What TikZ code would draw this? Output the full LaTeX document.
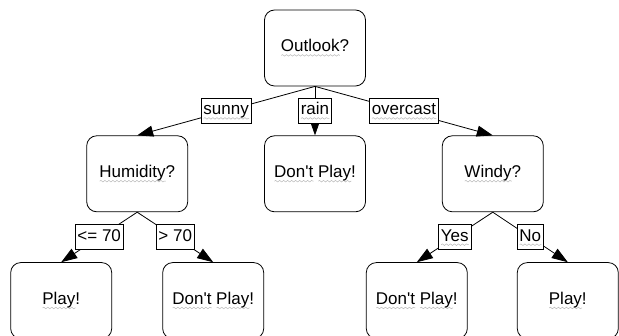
\documentclass[tikz,border=0pt]{standalone}
\usepackage{fontspec}
\setmainfont{Liberation Sans}
\usetikzlibrary{arrows.meta, positioning, decorations.pathmorphing}

% wavy grey underline, one word at a time
\newsavebox{\wordbox}
\newlength{\wordwd}
\newcommand{\squig}[1]{\sbox{\wordbox}{#1}\setlength{\wordwd}{\wd\wordbox}%
  \rlap{\tikz[baseline=0pt, x=1pt, y=1pt]\draw[-, sharp corners, fill=none, line width=0.5pt, gray!55, decorate, decoration={snake, amplitude=0.8pt, segment length=4pt}] (0,-3.5) -- (\wordwd,-3.5);}%
  \usebox{\wordbox}}

\begin{document}
\begin{tikzpicture}[
    x=1pt, y=-1pt,
    node distance=49pt,
    test/.style={rectangle, draw, rounded corners=10pt, minimum width=101pt, minimum height=76pt, align=center, font=\fontsize{17}{20}\selectfont, line width=0.8pt},
    leaf/.style={test},
    cond/.style={rectangle, draw, fill=white, inner xsep=2.5pt, inner ysep=3.5pt, text height=13pt, text depth=5pt, font=\fontsize{17}{20}\selectfont, line width=0.8pt},
    -{Triangle[length=16pt,width=11pt]}, line width=0.8pt
]
    \useasboundingbox (0,0) rectangle (619,336);

    % Root and first level
    \node[test] (outlook) at (315,48) {\squig{Outlook}?};
    \node[leaf, below=of outlook] (nogo1) {\squig{Don\textquotesingle t} \squig{Play}!};
    \node[test, left=76pt of nogo1] (humidity) {\squig{Humidity}?};
    \node[test, right=76pt of nogo1] (windy) {\squig{Windy}?};

    % Leaves
    \node[leaf, below=50pt of humidity, xshift=-76pt] (play1) {\squig{Play}!};
    \node[leaf, below=50pt of humidity, xshift=76pt] (nogo2) {\squig{Don\textquotesingle t} \squig{Play}!};
    \node[leaf, below=50pt of windy, xshift=-76pt] (nogo3) {\squig{Don\textquotesingle t} \squig{Play}!};
    \node[leaf, below=50pt of windy, xshift=75pt] (play2) {\squig{Play}!};

    % Edges
    \draw (outlook.south) -- node[cond] {\squig{sunny}} (humidity.north);
    \draw (outlook.south) -- node[cond] {\squig{rain}} (nogo1.north);
    \draw (outlook.south) -- node[cond] {\squig{overcast}} (windy.north);
    \draw (humidity.south) -- node[cond] {<= 70} (play1.north);
    \draw (humidity.south) -- node[cond] {> 70} (nogo2.north);
    \draw (windy.south) -- node[cond] {\squig{Yes}} (nogo3.north);
    \draw (windy.south) -- node[cond] {\squig{No}} (play2.north);
\end{tikzpicture}
\end{document}
